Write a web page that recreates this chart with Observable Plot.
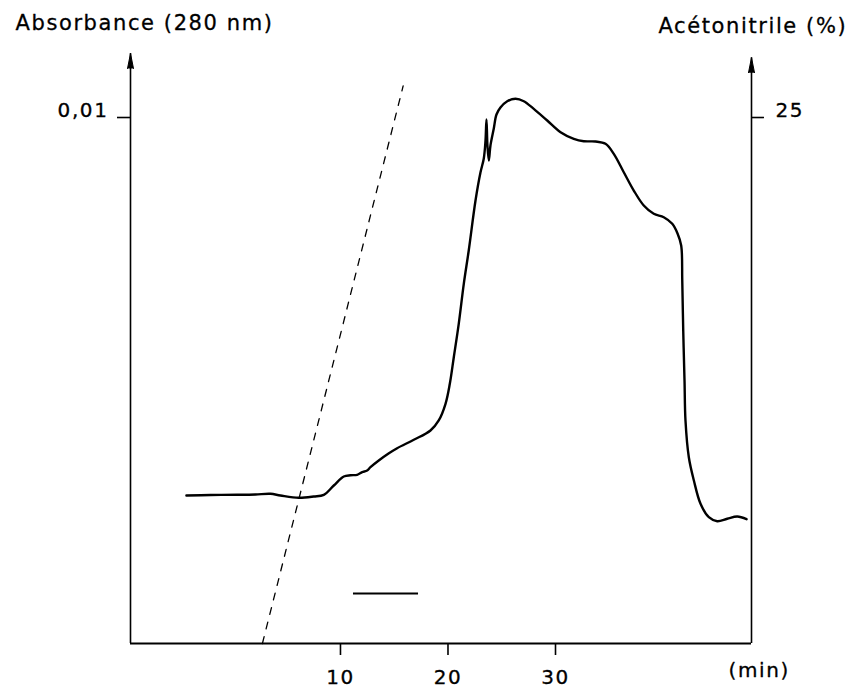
<!DOCTYPE html>
<html>
<head>
<meta charset="utf-8">
<script src="https://cdn.jsdelivr.net/npm/d3@7"></script>
<script src="https://cdn.jsdelivr.net/npm/@observablehq/plot@0.6"></script>
<style>
  html, body { margin: 0; padding: 0; background: #fff; }
  #chart { width: 858px; height: 691px; }
</style>
</head>
<body>
<div id="chart"></div>
<script>
// ---- data ----
const timeTicks = [10, 20, 30];
const absTicks = [0.01];
const absTickLabels = ["0,01"];
const acnTicks = [25];
const acnTickLabels = ["25"];
const titleLeft = "Absorbance (280 nm)";
const titleRight = "Acétonitrile (%)";
const timeUnit = "(min)";

// chromatogram (time in min, absorbance at 280 nm)
const time = [-4.33, -2.09, 0.39, 2.09, 3.49, 4.42, 6.12, 7.52, 8.45, 9.38,
  10.31, 10.93, 11.55, 12.02, 12.48, 12.79, 13.56, 14.47, 15.27, 16.82,
  18.37, 19.14, 19.77, 20.17, 20.54, 21.00, 21.47, 21.93, 22.56, 23.02,
  23.33, 23.49, 23.58, 23.67, 23.80, 23.95, 24.26, 24.51, 24.88, 25.51,
  26.28, 27.05, 27.98, 29.23, 30.47, 31.70, 32.63, 33.72, 34.65, 35.42,
  36.35, 37.28, 38.21, 39.14, 40.07, 40.86, 41.35, 41.69, 41.79, 41.88,
  42.00, 42.09, 42.40, 42.87, 43.49, 44.26, 45.04, 45.97, 46.91, 47.77];
const absorbance = [0.002814, 0.002823, 0.002827, 0.002833, 0.002846, 0.002814, 0.002770, 0.002795, 0.002827, 0.003004,
  0.003175, 0.003198, 0.003207, 0.003257, 0.003289, 0.003352, 0.003479, 0.003612, 0.003713, 0.003873,
  0.004049, 0.004240, 0.004557, 0.004937, 0.005443, 0.006078, 0.006838, 0.007471, 0.008422, 0.008954,
  0.009221, 0.009563, 0.009962, 0.009468, 0.009183, 0.009468, 0.009791, 0.010057, 0.010190, 0.010310,
  0.010356, 0.010310, 0.010165, 0.009943, 0.009721, 0.009595, 0.009549, 0.009544, 0.009500, 0.009310,
  0.008960, 0.008612, 0.008327, 0.008169, 0.008105, 0.007979, 0.007795, 0.007567, 0.006901, 0.005951,
  0.005000, 0.004240, 0.003542, 0.003099, 0.002656, 0.002401, 0.002325, 0.002371, 0.002414, 0.002363];

// acetonitrile gradient (dashed line): time (min), percent
const gradientTime = [2.74, 15.83];
const gradientAcn = [0, 26.5];

// collected fraction bar
const fractionTime = [11.21, 17.26];
const fractionLevel = 0.00095;

// ---- layout constants ----
const xDomain = [-9.53, 48.23];
const yTop = 0.011217;
const acnToAbs = absTicks[0] / acnTicks[0]; // 25 % sits level with 0,01

const curve = time.map((t, i) => ({t, a: absorbance[i]}));
const gradient = gradientTime.map((t, i) => ({t, a: gradientAcn[i] * acnToAbs}));

const textHeavy = {textStroke: "black", textStrokeWidth: 0.3};
const titleStyle = {fill: "black", stroke: "black", strokeWidth: 0.3, textAnchor: "start", lineAnchor: "top"};

const chart = Plot.plot({
  width: 858,
  height: 691,
  marginLeft: 130,
  marginRight: 107,
  marginTop: 53,
  marginBottom: 48,
  x: {domain: xDomain},
  y: {domain: [0, yTop]},
  style: {fontFamily: "DejaVu Sans", fontSize: "20px", color: "black", background: "white", letterSpacing: "1.6px", overflow: "visible"},
  marks: [
    // axis lines
    Plot.ruleY([0], {strokeWidth: 1.8}),
    Plot.ruleX([xDomain[0]], {y1: 0, y2: yTop, strokeWidth: 1.6}),
    Plot.ruleX([xDomain[1]], {y1: 0, y2: yTop * 0.993, strokeWidth: 1.6}),
    Plot.vector([xDomain[0]], {x: d => d, y: yTop, shape: "spike", length: 15, r: 3, anchor: "end", fill: "black", fillOpacity: 1, stroke: "black", strokeWidth: 1}),
    Plot.vector([xDomain[1]], {x: d => d, y: yTop * 0.993, shape: "spike", length: 15, r: 3, anchor: "end", fill: "black", fillOpacity: 1, stroke: "black", strokeWidth: 1}),
    // x axis
    Plot.axisX(timeTicks, {tickSize: 12, tickPadding: 14, strokeWidth: 1.6, tickFormat: d => String(d), label: null, ...textHeavy}),
    // left y axis (absorbance)
    Plot.axisY(absTicks, {anchor: "left", tickSize: 13, fill: "none", strokeWidth: 1.6, label: null}),
    Plot.axisY(absTicks, {anchor: "left", tickSize: 13, tickPadding: 9, stroke: "none", tickFormat: (d, i) => absTickLabels[i], dy: -7, label: null, ...textHeavy}),
    // right y axis (acetonitrile)
    Plot.axisY(acnTicks.map(p => p * acnToAbs), {anchor: "right", tickSize: 12, fill: "none", strokeWidth: 1.6, label: null}),
    Plot.axisY(acnTicks.map(p => p * acnToAbs), {anchor: "right", tickSize: 12, tickPadding: 12, stroke: "none", tickFormat: (d, i) => acnTickLabels[i], dy: -7, label: null, ...textHeavy}),
    // gradient (dashed)
    Plot.line(gradient, {x: "t", y: "a", stroke: "black", strokeWidth: 1.3, strokeDasharray: "7,8"}),
    // fraction bar
    Plot.ruleY([fractionLevel], {x1: fractionTime[0], x2: fractionTime[1], strokeWidth: 2}),
    // chromatogram
    Plot.line(curve, {x: "t", y: "a", stroke: "black", strokeWidth: 2.4, curve: "catmull-rom"}),
    // titles
    Plot.text([titleLeft], {text: d => d, frameAnchor: "top-left", fontSize: 21, dx: -115, dy: -38, ...titleStyle}),
    Plot.text([titleRight], {text: d => d, frameAnchor: "top-right", fontSize: 21, dx: -93, dy: -35, ...titleStyle}),
    Plot.text([timeUnit], {text: d => d, frameAnchor: "bottom-right", dx: -23, dy: 19, ...titleStyle})
  ]
});
document.getElementById("chart").appendChild(chart);
</script>
</body>
</html>
